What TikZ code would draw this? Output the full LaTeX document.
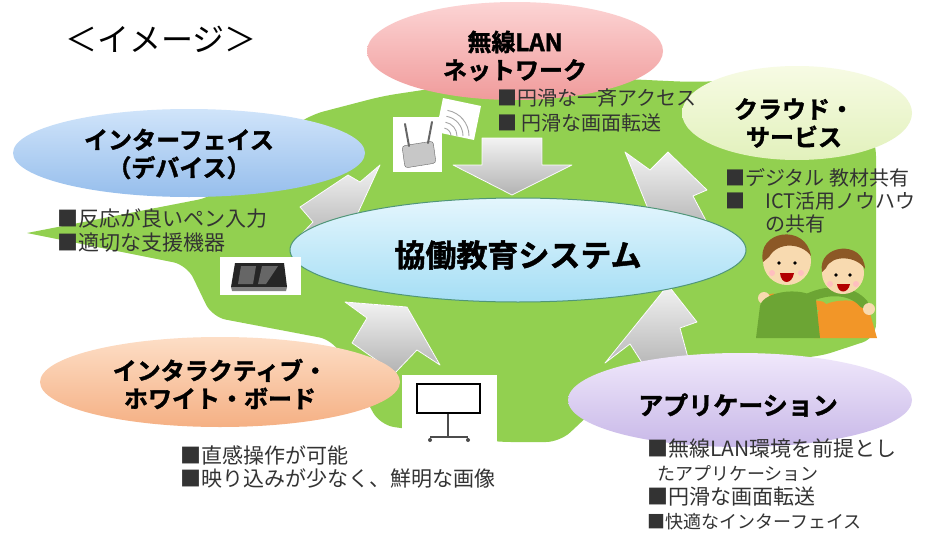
\documentclass[tikz,border=0pt]{standalone}
\usepackage{fontspec}
\newfontfamily\jp{Noto Sans CJK JP}[BoldFont={Noto Sans CJK JP Bold},
    BoldFeatures={FakeBold=1.5}]
\usetikzlibrary{shapes.geometric}

\definecolor{leaf}{RGB}{146,208,80}
\definecolor{pinktop}{RGB}{252,212,212}
\definecolor{pinkbot}{RGB}{240,155,155}
\definecolor{cloudtop}{RGB}{247,251,228}
\definecolor{cloudbot}{RGB}{226,241,188}
\definecolor{bluetop}{RGB}{208,228,250}
\definecolor{bluebot}{RGB}{150,190,236}
\definecolor{coretop}{RGB}{228,246,253}
\definecolor{corebot}{RGB}{165,222,245}
\definecolor{corerim}{RGB}{80,150,120}
\definecolor{peachtop}{RGB}{253,222,198}
\definecolor{peachbot}{RGB}{245,176,132}
\definecolor{lilactop}{RGB}{240,232,251}
\definecolor{lilacbot}{RGB}{200,184,232}
\definecolor{skin}{RGB}{248,218,176}
\definecolor{hair}{RGB}{140,88,38}
\definecolor{shirtgreen}{RGB}{108,165,52}
\definecolor{shirtorange}{RGB}{242,150,40}

\begin{document}
\begin{tikzpicture}[x=1pt,y=-1pt,
    bubble/.style={ellipse,inner sep=0pt},
    bubbletext/.style={align=center,inner sep=0pt,
        font=\jp\bfseries\fontsize{24}{28}\selectfont},
    bullets/.style={anchor=base west,align=left,inner sep=0pt,text=black!80,
        font=\jp\fontsize{20}{25}\selectfont},
    flow/.style={top color=black!5,bottom color=black!30,draw=white,
        line width=0.8pt,line join=round},
    photo/.style={fill=white},
]
\useasboundingbox (0,0) rectangle (935,533);
\fill[white] (0,0) rectangle (935,533);

% green area behind everything
\fill[leaf] (27,233) [rounded corners=14pt] -- (187,265) -- (212,317)
    -- (333,340) -- (380,425) -- (497,442) -- (560,442) -- (610,395)
    -- (700,360) -- (818,357) -- (876,338) -- (876,142) -- (850,92)
    -- (760,80) -- (690,82) -- (560,76) -- (443,87) -- (383,96)
    -- (310,115) -- (260,150) -- (212,197) [sharp corners] -- cycle;

% block arrows towards the centre
\filldraw[flow] (482,138) -- (542,138) -- (542,165) -- (572,165)
    -- (512,195) -- (453,165) -- (482,165) -- cycle;
\filldraw[flow] (380,165) -- (360,182) -- (348,175) -- (300,207)
    -- (313,222) -- (293,243) -- (357,215) -- cycle;
\filldraw[flow] (625,152) -- (650,170) -- (668,152) -- (707,190)
    -- (693,196) -- (712,232) -- (655,226) -- cycle;
\filldraw[flow] (407,307) -- (345,302) -- (367,318) -- (352,343)
    -- (395,373) -- (417,350) -- (440,365) -- cycle;
\filldraw[flow] (668,285) -- (697,322) -- (680,328) -- (690,365)
    -- (648,372) -- (630,344) -- (605,363) -- cycle;

% ellipses
\node[bubble,minimum width=296,minimum height=98,
    top color=pinktop,bottom color=pinkbot] (lan) at (515,51) {};
\node[bubble,minimum width=230,minimum height=94,
    top color=cloudtop,bottom color=cloudbot] (cloud) at (797,113) {};
\node[bubble,minimum width=352,minimum height=88,
    top color=bluetop,bottom color=bluebot] (device) at (189,153) {};
\node[bubble,minimum width=456,minimum height=104,draw=corerim,line width=1pt,
    top color=coretop,bottom color=corebot] (core) at (518,250) {};
\node[bubble,minimum width=360,minimum height=90,
    top color=peachtop,bottom color=peachbot] (board) at (220,382) {};
\node[bubble,minimum width=344,minimum height=94,
    top color=lilactop,bottom color=lilacbot] (app) at (740,400) {};

\node[bubbletext] (lantext) at (515,56) {無線LAN\\ネットワーク};
\node[bubbletext] (cloudtext) at (794,123) {クラウド・\\サービス};
\node[bubbletext] (devicetext) at (179,154) {インターフェイス\\（デバイス）};
\node[bubbletext] (boardtext) at (220,384) {インタラクティブ・\\ホワイト・ボード};
\node[bubbletext,font=\jp\bfseries\fontsize{25}{28}\selectfont] (apptext)
    at (738,405) {アプリケーション};
\node[font=\jp\bfseries\fontsize{31}{31}\selectfont] (coretext)
    at (518,255) {協働教育システム};

% title
\node[font=\jp\fontsize{32}{32}\selectfont] (title) at (161,39) {＜イメージ＞};

% router
\fill[photo] (393,117) rectangle (442,172);
\filldraw[fill=black!22,draw=black!60,rounded corners=3pt]
    (402,146) -- (433,141) -- (436,163) -- (405,168) -- cycle;
\draw[black!60,line width=2pt,line cap=round] (409,146) -- (405,124);
\draw[black!60,line width=2pt,line cap=round] (428,143) -- (432,122);
\fill[photo] (443,98) -- (481,106) -- (474,140) -- (436,132) -- cycle;
\foreach \r in {8,14,20,26} {
    \draw[black!35,line width=0.9pt] (443+\r,136) arc[start angle=0,end angle=-80,radius=\r];
}

% tablet
\fill[photo] (220,257) rectangle (301,295);
\fill[black!85] (235,263) -- (284,263) -- (287,287) -- (231,287) -- cycle;
\fill[black!50] (231,287) -- (287,287) -- (286,291) -- (232,291) -- cycle;
\fill[black!60] (241,266) -- (256,266) -- (253,284) -- (238,284) -- cycle;
\fill[black!60] (262,266) -- (278,266) -- (266,284) -- (258,284) -- cycle;

% whiteboard on a stand
\fill[photo] (402,375) rectangle (497,443);
\draw[line width=2.5pt,fill=white] (417,384) rectangle (480,413);
\draw[black!70,line width=1.5pt] (448,414) -- (448,437);
\draw[black!70,line width=1.5pt] (430,437) -- (468,437);
\fill[black!70] (430,440) circle (2) (468,440) circle (2);

% two kids
\fill[shirtorange] (814,338) -- (818,312) .. controls (822,298) and (864,296) .. (869,310) -- (877,338) -- cycle;
\draw[shirtorange,line width=9pt,line cap=round] (822,306) -- (772,298);
\fill[skin] (764,298) circle (6);
\fill[shirtgreen] (756,338) -- (760,306) .. controls (763,290) and (808,286) .. (816,300) -- (820,338) -- cycle;
\draw[shirtgreen,line width=9pt,line cap=round] (808,298) .. controls (830,288) and (852,290) .. (864,304);
\fill[skin] (869,309) circle (6);
\fill[skin] (787,261) circle (24);
\fill[skin] (843,273) circle (21);
\fill[hair] (763,262) .. controls (756,230) and (806,223) .. (811,256)
    .. controls (802,243) and (778,241) .. (769,257) -- cycle;
\fill[hair] (822,272) .. controls (817,244) and (864,239) .. (865,269)
    .. controls (857,256) and (832,254) .. (826,268) -- cycle;
\fill (779,263) circle (1.9) (795,263) circle (1.9);
\fill (836,275) circle (1.8) (850,275) circle (1.8);
\fill[red!70!black] (780,273) .. controls (781,285) and (792,285) .. (794,273) -- cycle;
\fill[red!70!black] (837,284) .. controls (838,294) and (848,294) .. (850,284) -- cycle;
\fill[pink] (772,273) circle (3) (801,273) circle (3);
\fill[pink] (830,284) circle (3) (856,284) circle (3);

% bullet notes (anchored at the baseline of the last line)
\node[bullets,font=\jp\fontsize{21}{24}\selectfont] (devicenotes) at (57,250)
    {■反応が良いペン入力\\■適切な支援機器};
\node[bullets] (lannotes) at (497,130)
    {■円滑な一斉アクセス\\■ 円滑な画面転送};
\node[bullets,font=\jp\fontsize{20}{23}\selectfont] (cloudnotes) at (725,231)
    {■デジタル 教材共有\\■　ICT活用ノウハウ\\\phantom{■　}の共有};
\node[bullets,font=\jp\fontsize{21}{23}\selectfont] (boardnotes) at (180,486)
    {■直感操作が可能\\■映り込みが少なく、鮮明な画像};
\node[bullets,font=\jp\fontsize{21}{24}\selectfont] (appnotes) at (647,528)
    {■無線LAN環境を前提とし\\\hspace{10pt}{\fontsize{18}{24}\selectfont たアプリケーション}\\■円滑な画面転送\\{\fontsize{18}{24}\selectfont ■快適なインターフェイス}};
\end{tikzpicture}
\end{document}
